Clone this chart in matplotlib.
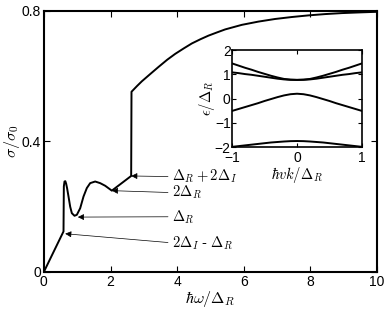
import matplotlib
matplotlib.use("Agg")
import matplotlib.pyplot as plt

plt.rcParams['font.family'] = ['Liberation Sans', 'DejaVu Sans']
plt.rcParams['mathtext.fontset'] = 'cm'
plt.rcParams['axes.unicode_minus'] = True

# main curve: conductivity sigma/sigma0 vs hbar*omega/Delta_R
omega = [0.0, 0.59, 0.60, 0.62, 0.645, 0.67, 0.70, 0.74, 0.79, 0.84, 0.92, 0.99, 1.09,
         1.19, 1.29, 1.39, 1.54, 1.69, 1.84, 2.04, 2.62, 2.63, 2.8, 2.94, 3.2, 3.44,
         3.7, 3.94, 4.2, 4.44, 4.7, 4.94, 5.2, 5.44, 5.94, 6.44, 6.94, 7.44, 7.94,
         8.44, 8.94, 9.44, 10.0]
sigma = [0.0, 0.124, 0.262, 0.277, 0.278, 0.270, 0.255, 0.231, 0.200, 0.180, 0.172, 0.175, 0.195,
         0.231, 0.257, 0.272, 0.277, 0.272, 0.264, 0.249, 0.294, 0.552, 0.570, 0.584, 0.607, 0.628,
         0.650, 0.668, 0.685, 0.700, 0.713, 0.724, 0.734, 0.743, 0.757, 0.767, 0.775, 0.781, 0.786,
         0.790, 0.793, 0.795, 0.797]

# annotations: label, arrow target (x, y), label y position
ann_labels = [r'$\Delta_R+2\Delta_I$', r'$2\Delta_R$', r'$\Delta_R$', r'$2\Delta_I$ - $\Delta_R$']
ann_target_x = [2.62, 2.04, 1.02, 0.64]
ann_target_y = [0.294, 0.249, 0.168, 0.117]
ann_text_y = [0.292, 0.243, 0.169, 0.089]
ann_text_x = 3.85

# inset: band structure epsilon/Delta_R vs hbar v k/Delta_R
k = [-1.0, -0.9, -0.8, -0.7, -0.6, -0.5, -0.4, -0.3, -0.2, -0.1, 0.0,
     0.1, 0.2, 0.3, 0.4, 0.5, 0.6, 0.7, 0.8, 0.9, 1.0]
band_outer = [1.45, 1.36, 1.27, 1.19, 1.10, 1.02, 0.94, 0.87, 0.81, 0.78, 0.77,
              0.78, 0.81, 0.87, 0.94, 1.02, 1.10, 1.19, 1.27, 1.36, 1.45]
band_inner = [1.08, 1.05, 1.01, 0.98, 0.94, 0.90, 0.86, 0.82, 0.79, 0.775, 0.77,
              0.775, 0.79, 0.82, 0.86, 0.90, 0.94, 0.98, 1.01, 1.05, 1.08]
band_mid = [-0.51, -0.43, -0.35, -0.27, -0.19, -0.10, -0.02, 0.06, 0.13, 0.18, 0.20,
            0.18, 0.13, 0.06, -0.02, -0.10, -0.19, -0.27, -0.35, -0.43, -0.51]
band_low = [-1.99, -1.96, -1.93, -1.90, -1.87, -1.84, -1.81, -1.79, -1.77, -1.755, -1.75,
            -1.755, -1.77, -1.79, -1.81, -1.84, -1.87, -1.90, -1.93, -1.96, -1.99]

fig = plt.figure(figsize=(3.88, 3.09), dpi=100)
ax = fig.add_axes([0.113, 0.120, 0.859, 0.845])
ax.plot(omega, sigma, color='black', lw=1.4)
ax.set_xlim(0, 10)
ax.set_ylim(0, 0.8)
ax.set_xticks([0, 2, 4, 6, 8, 10])
ax.set_yticks([0, 0.4, 0.8])
ax.set_yticklabels(['0', '0.4', '0.8'])
ax.tick_params(direction='in', top=True, right=True, labelsize=10, length=4, width=0.8, pad=2)
for s in ax.spines.values():
    s.set_linewidth(1.5)
ax.set_xlabel(r'$\hbar\omega/\Delta_R$', fontsize=11.5, labelpad=0)
ax.set_ylabel(r'$\sigma/\sigma_0$', fontsize=11.5, labelpad=0)

for lab, tx, ty, yy in zip(ann_labels, ann_target_x, ann_target_y, ann_text_y):
    ax.annotate(lab, xy=(tx, ty), xytext=(ann_text_x, yy), ha='left', va='center',
                fontsize=10.5,
                arrowprops=dict(arrowstyle='-|>', color='black', lw=0.5,
                                shrinkA=1, shrinkB=0, mutation_scale=9, relpos=(0, 0.5)))

ins = fig.add_axes([0.598, 0.524, 0.335, 0.314])
for b in [band_outer, band_inner, band_mid, band_low]:
    ins.plot(k, b, color='black', lw=1.4)
ins.set_xlim(-1, 1)
ins.set_ylim(-2, 2)
ins.set_xticks([-1, 0, 1])
ins.set_yticks([-2, -1, 0, 1, 2])
ins.tick_params(direction='in', top=True, right=True, labelsize=10, length=3, width=0.8, pad=1)
ins.tick_params(axis='x', pad=2.5)
for s in ins.spines.values():
    s.set_linewidth(1.2)
ins.set_xlabel(r'$\hbar vk/\Delta_R$', fontsize=10.5, labelpad=0)
ins.set_ylabel(r'$\epsilon/\Delta_R$', fontsize=10.5, labelpad=-2)

fig.savefig('out.png', dpi=100)
